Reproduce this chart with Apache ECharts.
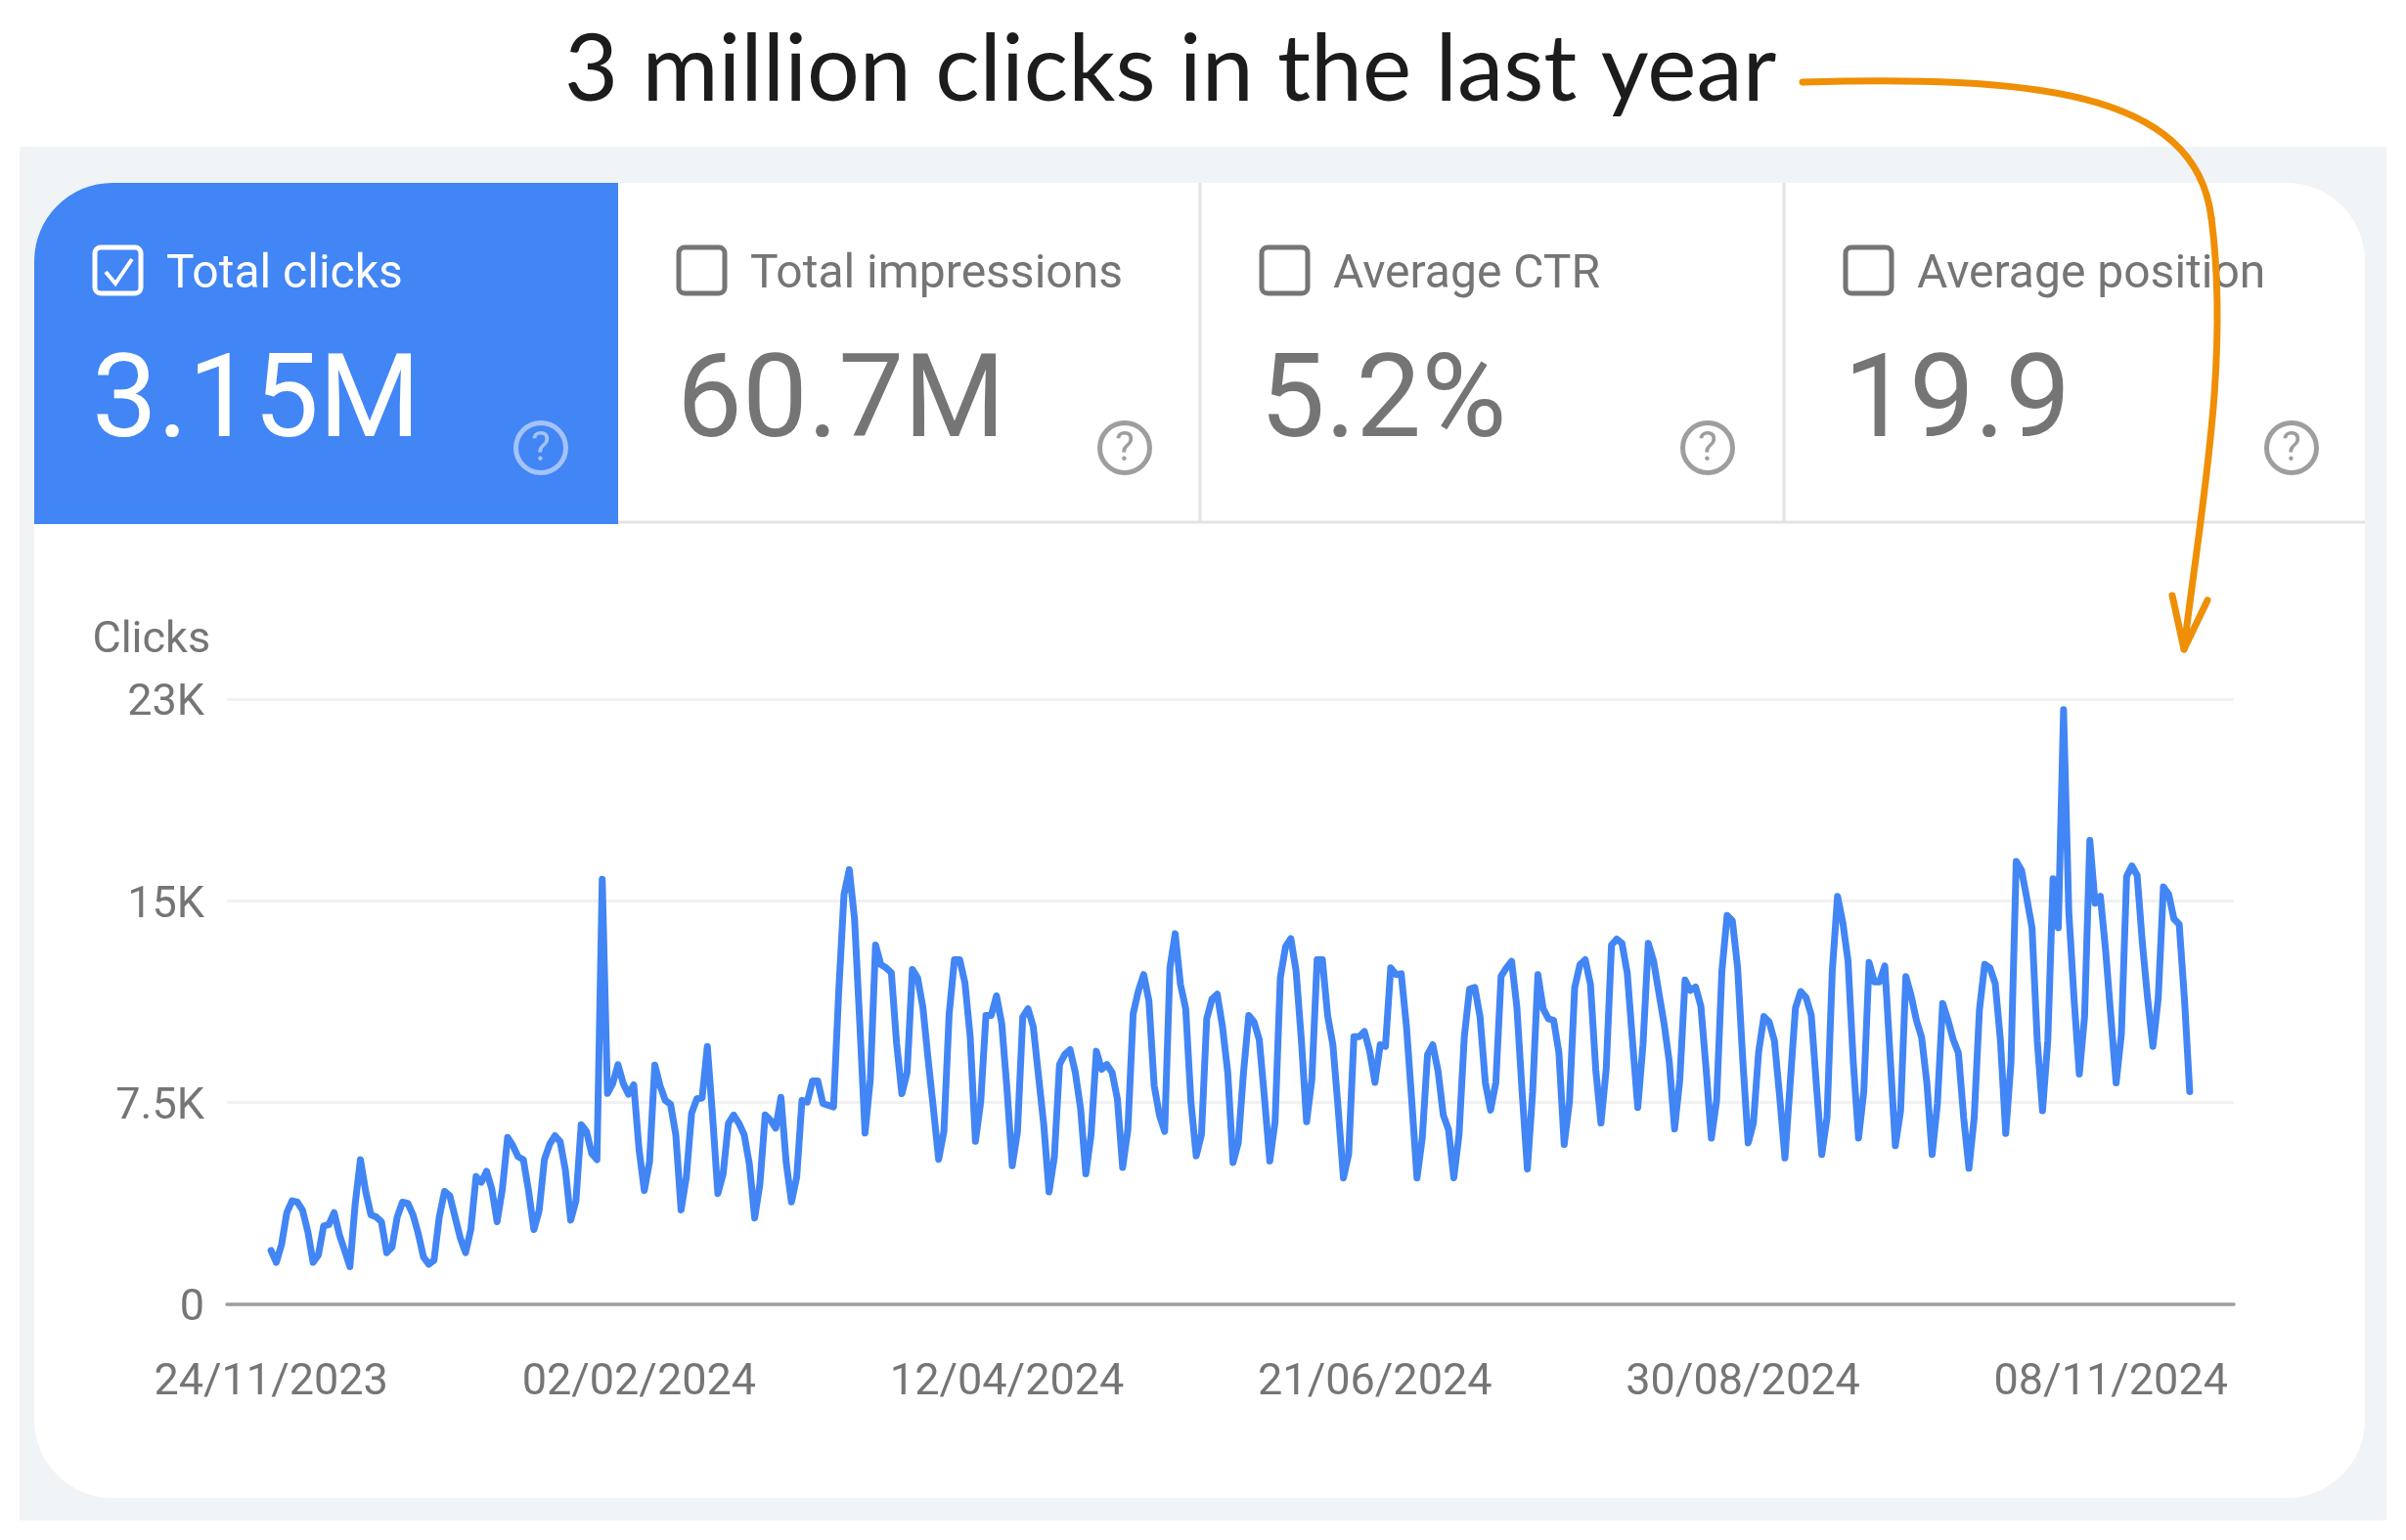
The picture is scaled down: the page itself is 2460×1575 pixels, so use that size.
<!DOCTYPE html>
<html>
<head>
<meta charset="utf-8">
<title>Clicks</title>
<script src="https://cdn.jsdelivr.net/npm/echarts@6/dist/echarts.min.js"></script>
<style>
  html, body { margin: 0; padding: 0; background: #fff; }
  #chart { width: 2460px; height: 1575px; }
</style>
</head>
<body>
<div id="chart"></div>
<script>
// 每日点击量，从 24/11/2023 开始，每行一周
const clickValues = [
  2000,1560,2230,3410,3850,3800,3490,
  2700,1560,1840,2910,2970,3410,2590,
  2000,1400,3730,5380,4200,3330,3250,
  3070,1920,2120,3250,3800,3760,3330,
  2630,1760,1490,1640,3250,4200,4040,
  3250,2470,1920,2780,4750,4540,4950,
  4280,3070,4280,6210,5900,5490,5380,
  4200,2780,3490,5380,5960,6270,6050,
  4980,3130,3850,6680,6430,5610,5380,
  15800,7840,8210,8910,8210,7810,8160,
  5770,4230,5300,8900,8130,7580,7440,
  6300,3510,4730,7100,7640,7670,9590,
  6970,4120,4850,6730,7040,6730,6310,
  5210,3210,4480,7040,6850,6550,7700,
  5270,3810,4730,7580,7520,8310,8310,
  7460,7400,7340,11660,15240,16160,14330,
  10440,6370,8370,13360,12630,12510,12330,
  9710,7830,8620,12450,12140,11050,9100,
  7280,5390,6430,10800,12810,12810,11960,
  9950,6060,7520,10740,10740,11470,10440,
  8010,5150,6430,10680,10990,10320,8490,
  6670,4180,5450,8920,9290,9470,8620,
  7280,4850,6310,9410,8740,8920,8620,
  7640,5090,6500,10800,11660,12260,11290,
  8130,7040,6430,12510,13780,11900,10990,
  7520,5520,6310,10620,11350,11530,10320,
  8620,5270,6000,8620,10740,10500,9830,
  7640,5330,6790,12140,13300,13600,12390,
  9830,6790,8370,12810,12810,10740,9650,
  7280,4700,5580,9950,9950,10140,9410,
  8250,9650,9590,12510,12260,12290,10320,
  7580,4700,6180,9280,9650,8680,7040,
  6490,4700,6310,9950,11720,11780,10680,
  8250,7220,8250,12200,12510,12750,11050,
  7890,5030,7890,12260,10990,10620,10560,
  9350,5940,7520,11780,12630,12810,11900,
  8740,6740,8750,13360,13580,13420,12320,
  9790,7320,9660,13420,12770,11600,10440,
  9010,6520,8360,12060,11670,11800,11090,
  8750,6180,7580,12380,14460,14260,12510,
  9010,6000,6740,9400,10700,10500,9790,
  7710,5440,8230,11020,11630,11410,10760,
  8100,5570,6940,12380,15170,14200,12770,
  9010,6180,7910,12710,11990,11990,12580,
  9270,5900,7200,12190,11480,10570,9920,
  8230,5570,7450,11190,10570,9850,9340,
  6940,5060,6940,10960,12640,12510,11930,
  9790,6350,9010,16470,16140,15110,14000,
  9790,7200,9790,15820,14000,22110,14590,
  11350,8560,10700,17250,14910,15170,13160,
  10700,8230,10050,15910,16300,15950,13420,
  11350,9590,11350,15520,15240,14330,14130,
  11350,7910
];
// x 轴用天数，第 0 天是 24/11/2023
const xTickDays = [0, 70, 140, 210, 280, 350];
const xTickLabels = ['24/11/2023', '02/02/2024', '12/04/2024', '21/06/2024', '30/08/2024', '08/11/2024'];
const yTickValues = [0, 7500, 15000, 22500];
const yTickLabels = ['0', '7.5K', '15K', '23K'];
const tabTitles = ['Total clicks', 'Total impressions', 'Average CTR', 'Average position'];
const tabValues = ['3.15M', '60.7M', '5.2%', '19.9'];
const noteText = '3 million clicks in the last year';

const BLUE = '#4285f4';
const GREY = '#757575';
const ORANGE = '#ef8f06';
const FONT = 'Roboto';

const seriesData = clickValues.map((v, i) => [i, v]);

// 四个标签页的位置
const tabLayout = [
  { box: 95, title: 170, value: 94, help: 553 },
  { box: 692, title: 767, value: 692, help: 1150 },
  { box: 1288, title: 1363, value: 1288, help: 1746 },
  { box: 1885, title: 1960, value: 1885, help: 2343 }
];

function buildTabs() {
  const items = [];
  tabTitles.forEach((title, i) => {
    const pos = tabLayout[i];
    const active = i === 0;
    const color = active ? '#ffffff' : GREY;
    const helpColor = active ? '#a3c3fa' : '#9e9e9e';
    items.push({
      type: 'rect', z: 5,
      shape: { x: pos.box + 2, y: 253, width: 47, height: 47, r: 6 },
      style: { fill: 'transparent', stroke: color, lineWidth: 5 }
    });
    items.push({
      type: 'text', z: 5, x: pos.title, y: 282,
      style: { text: title, fill: color, fontFamily: FONT, fontSize: 48, verticalAlign: 'middle' }
    });
    items.push({
      type: 'text', z: 5, x: pos.value, y: 416,
      style: { text: tabValues[i], fill: color, fontFamily: FONT, fontSize: 119, verticalAlign: 'middle' }
    });
    items.push({
      type: 'circle', z: 5,
      shape: { cx: pos.help, cy: 458, r: 25.5 },
      style: { fill: 'transparent', stroke: helpColor, lineWidth: 5 }
    });
    items.push({
      type: 'text', z: 5, x: pos.help, y: 460,
      style: { text: '?', fill: helpColor, fontFamily: FONT, fontSize: 42, textAlign: 'center', verticalAlign: 'middle' }
    });
  });
  // 选中的勾
  items.push({
    type: 'polyline', z: 5,
    shape: { points: [[108, 278], [118, 290], [135, 265]] },
    style: { fill: 'none', stroke: '#ffffff', lineWidth: 4 }
  });
  return items;
}

function buildBackground() {
  const line = { stroke: '#e3e3e3', lineWidth: 3 };
  return [
    { type: 'rect', z: -10, shape: { x: 20, y: 150, width: 2420, height: 1405 }, style: { fill: '#f0f4f7' } },
    { type: 'rect', z: -9, shape: { x: 35, y: 187, width: 2383, height: 1345, r: 80 }, style: { fill: '#ffffff' } },
    { type: 'rect', z: -8, shape: { x: 35, y: 187, width: 597, height: 349, r: [80, 0, 0, 0] }, style: { fill: BLUE } },
    { type: 'line', z: -8, shape: { x1: 632, y1: 534, x2: 2418, y2: 534 }, style: line },
    { type: 'line', z: -8, shape: { x1: 1227, y1: 187, x2: 1227, y2: 534 }, style: line },
    { type: 'line', z: -8, shape: { x1: 1824, y1: 187, x2: 1824, y2: 534 }, style: line }
  ];
}

// 手绘的说明文字和箭头
function buildNote() {
  const arrow = { fill: 'none', stroke: ORANGE, lineWidth: 7, lineCap: 'round', lineJoin: 'round' };
  return [
    {
      type: 'text', z: 20, x: 577, y: 72,
      style: { text: noteText, fill: '#1c1c1c', fontFamily: 'Lato', fontSize: 95, fontWeight: 400, verticalAlign: 'middle' }
    },
    {
      type: 'bezierCurve', z: 20,
      shape: { x1: 1843, y1: 84, cpx1: 2070, cpy1: 78, cpx2: 2245, cpy2: 90, x2: 2261, y2: 223 },
      style: arrow
    },
    {
      type: 'bezierCurve', z: 20,
      shape: { x1: 2261, y1: 223, cpx1: 2280, cpy1: 370, cpx2: 2250, cpy2: 520, x2: 2233, y2: 664 },
      style: arrow
    },
    {
      type: 'polyline', z: 20,
      shape: { points: [[2221, 609], [2233, 664], [2257, 614]] },
      style: arrow
    }
  ];
}

const chart = echarts.init(document.getElementById('chart'), null, { renderer: 'canvas' });
chart.setOption({
  animation: false,
  backgroundColor: '#ffffff',
  textStyle: { fontFamily: FONT },
  graphic: { elements: [...buildBackground(), ...buildTabs(), ...buildNote()] },
  grid: { left: 232, right: 176, top: 715, bottom: 241, containLabel: false },
  xAxis: {
    type: 'value',
    min: -8.4,
    max: 373.4,
    axisLine: { show: true, onZero: false, lineStyle: { color: '#9e9e9e', width: 3.5 } },
    axisTick: { show: false },
    splitLine: { show: false },
    axisLabel: {
      customValues: xTickDays,
      color: GREY, fontFamily: FONT, fontSize: 45, margin: 58, hideOverlap: false,
      formatter: value => xTickLabels[xTickDays.indexOf(value)]
    }
  },
  yAxis: {
    type: 'value',
    min: 0,
    max: 22500,
    interval: 7500,
    name: 'Clicks',
    nameLocation: 'end',
    nameGap: 37,
    nameTextStyle: { color: GREY, fontFamily: FONT, fontSize: 45, align: 'right', padding: [0, 62, 0, 0] },
    axisLine: { show: false },
    axisTick: { show: false },
    splitLine: { lineStyle: { color: '#f1f1f1', width: 3 } },
    axisLabel: {
      margin: 23,
      // 标签比刻度线略低一点
      rich: { tick: { color: GREY, fontFamily: FONT, fontSize: 45, padding: [10, 0, 0, 0] } },
      formatter: value => '{tick|' + yTickLabels[yTickValues.indexOf(value)] + '}'
    }
  },
  series: [{
    type: 'line',
    name: 'Clicks',
    data: seriesData,
    showSymbol: false,
    smooth: false,
    z: 10,
    lineStyle: { color: BLUE, width: 7, join: 'round', cap: 'round' }
  }]
});
</script>
</body>
</html>
